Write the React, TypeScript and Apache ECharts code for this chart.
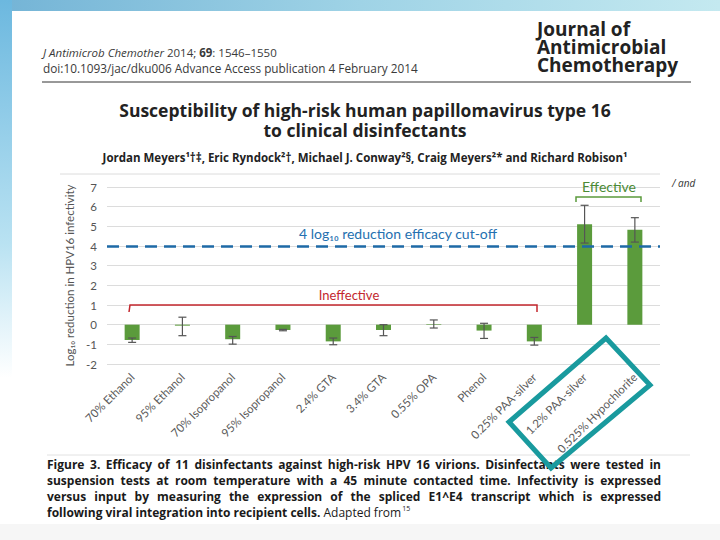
import React, { useEffect, useRef } from "react";
import * as echarts from "echarts";

const categories = [
  "70% Ethanol",
  "95% Ethanol",
  "70% Isopropanol",
  "95% Isopropanol",
  "2.4% GTA",
  "3.4% GTA",
  "0.55% OPA",
  "Phenol",
  "0.25% PAA-silver",
  "1.2% PAA-silver",
  "0.525% Hypochlorite",
];
const meanReduction = [-0.78, -0.05, -0.74, -0.27, -0.85, -0.27, 0.03, -0.3, -0.85, 5.1, 4.82];
const errorLow = [-0.9, -0.56, -0.99, -0.31, -1.02, -0.56, -0.17, -0.7, -1.04, 4.15, 4.2];
const errorHigh = [-0.68, 0.38, -0.6, -0.24, -0.68, 0.0, 0.24, 0.07, -0.65, 6.07, 5.44];
const yMin = -2;
const yMax = 7;
const cutoff = 4;

const captionLines = [
  "Figure 3. Efficacy of 11 disinfectants against high-risk HPV 16 virions. Disinfectants were tested in",
  "suspension tests at room temperature with a 45 minute contacted time. Infectivity is expressed",
  "versus input by measuring the expression of the spliced E1^E4 transcript which is expressed",
];

const CAPTION_FONT = "bold 12px 'Open Sans'";
const CAP_LEFT = 47;
const CAP_RIGHT = 661;
const CAP_TOP = 464;
const CAP_STEP = 16.3;

function justifiedWords(): any[] {
  const canvas = document.createElement("canvas");
  const ctx = canvas.getContext("2d");
  const out: any[] = [];
  captionLines.forEach((line, li) => {
    const words = line.split(" ");
    let widths: number[] = words.map((w) => w.length * 6.6);
    if (ctx) {
      ctx.font = CAPTION_FONT;
      widths = words.map((w) => ctx.measureText(w).width);
    }
    const total = widths.reduce((a, b) => a + b, 0);
    const gap = (CAP_RIGHT - CAP_LEFT - total) / (words.length - 1);
    let x = CAP_LEFT;
    words.forEach((w, wi) => {
      out.push({
        type: "text",
        x,
        y: CAP_TOP + li * CAP_STEP,
        style: { text: w, font: CAPTION_FONT, fill: "#1a1a1a", verticalAlign: "middle" },
      });
      x += widths[wi] + gap;
    });
  });
  return out;
}

export default function App() {
  const ref = useRef<HTMLDivElement>(null);
  useEffect(() => {
    if (!ref.current) return;
    const chart = echarts.init(ref.current, null, { renderer: "svg" });
    const errData = categories.map((_, i) => [i, errorLow[i], errorHigh[i]]);
    const gray = "#555";
    const option: any = {
      animation: false,
      backgroundColor: "#ffffff",
      grid: { left: 107, right: 60, top: 187, bottom: 176, containLabel: false },
      xAxis: {
        type: "category",
        data: categories,
        axisLine: { show: false },
        axisTick: { show: false },
        axisLabel: {
          rotate: 45,
          margin: 11,
          fontSize: 11.5,
          color: "#5a5a5a",
          fontFamily: "Lato",
          interval: 0,
        },
      },
      yAxis: {
        type: "value",
        min: yMin,
        max: yMax,
        interval: 1,
        name: "Log\u2081\u2080 reduction in HPV16 infectivity",
        nameLocation: "middle",
        nameRotate: 90,
        nameGap: 23,
        nameTextStyle: { fontSize: 11.5, color: "#555", fontFamily: "Lato" },
        axisLine: { show: false },
        axisTick: { show: false },
        axisLabel: { fontSize: 11.5, color: "#555", margin: 10, fontFamily: "Lato" },
        splitLine: { lineStyle: { color: "#dcdcdc", width: 1 } },
      },
      series: [
        {
          type: "bar",
          data: meanReduction,
          barWidth: 15,
          itemStyle: { color: "#5b9b3c" },
          markLine: {
            silent: true,
            symbol: "none",
            label: { show: false },
            lineStyle: { color: "#1e6aa6", width: 2.5, type: [12, 7] },
            data: [{ yAxis: cutoff }],
          },
        },
        {
          type: "custom",
          data: errData,
          encode: { x: 0, y: [1, 2] },
          z: 5,
          renderItem: (params: any, api: any) => {
            const x = api.value(0);
            const lo = api.coord([x, api.value(1)]);
            const hi = api.coord([x, api.value(2)]);
            const w = 4;
            const st = { stroke: gray, lineWidth: 1.2 };
            return {
              type: "group",
              children: [
                { type: "line", shape: { x1: lo[0], y1: lo[1], x2: hi[0], y2: hi[1] }, style: st },
                { type: "line", shape: { x1: lo[0] - w, y1: lo[1], x2: lo[0] + w, y2: lo[1] }, style: st },
                { type: "line", shape: { x1: hi[0] - w, y1: hi[1], x2: hi[0] + w, y2: hi[1] }, style: st },
              ],
            };
          },
        },
      ],
      graphic: [
        // slide background
        {
          type: "rect",
          z: -10,
          silent: true,
          shape: { x: 0, y: 0, width: 720, height: 11 },
          style: {
            fill: new echarts.graphic.LinearGradient(0, 0, 1, 0, [
              { offset: 0, color: "#74b4d6" },
              { offset: 0.5, color: "#9fd3e6" },
              { offset: 1, color: "#c4e9f0" },
            ]),
          },
        },
        {
          type: "rect",
          z: -10,
          silent: true,
          shape: { x: 0, y: 0, width: 12, height: 540 },
          style: {
            fill: new echarts.graphic.LinearGradient(0, 0, 0, 1, [
              { offset: 0, color: "#6cb8df" },
              { offset: 0.45, color: "#b9e2f2" },
              { offset: 0.7, color: "#ffffff" },
              { offset: 1, color: "#ffffff" },
            ]),
          },
        },
        {
          type: "rect",
          z: -10,
          silent: true,
          shape: { x: 0, y: 524, width: 720, height: 16 },
          style: { fill: "#f6f6f6" },
        },
        // header
        {
          type: "text",
          x: 43,
          y: 52.5,
          style: {
            text: "{i|J Antimicrob Chemother} 2014; {b|69}: 1546\u20131550",
            font: "11.5px 'Open Sans'",
            fill: "#3a3a3a",
            verticalAlign: "middle",
            rich: {
              i: { fontStyle: "italic", fontSize: 11.5, fontFamily: "Open Sans", fill: "#3a3a3a" },
              b: { fontWeight: "bold", fontSize: 11.5, fontFamily: "Open Sans", fill: "#3a3a3a" },
            },
          },
        },
        {
          type: "text",
          x: 43,
          y: 67.5,
          style: {
            text: "doi:10.1093/jac/dku006 Advance Access publication 4 February 2014",
            font: "11.8px 'Open Sans'",
            fill: "#3a3a3a",
            verticalAlign: "middle",
          },
        },
        ...["Journal of", "Antimicrobial", "Chemotherapy"].map((t, i) => ({
          type: "text",
          x: 537,
          y: 29 + i * 17.8,
          style: {
            text: t,
            font: "bold 19px 'Open Sans'",
            lineHeight: 17,
            fill: "#222",
            verticalAlign: "middle",
          },
        })),
        {
          type: "line",
          shape: { x1: 42, y1: 82, x2: 691, y2: 82 },
          style: { stroke: "#333", lineWidth: 1 },
        },
        {
          type: "text",
          x: 365,
          y: 110,
          style: {
            text: "Susceptibility of high-risk human papillomavirus type 16",
            font: "bold 17.5px 'Open Sans'",
            lineHeight: 18,
            fill: "#222",
            align: "center",
            verticalAlign: "middle",
          },
        },
        {
          type: "text",
          x: 365,
          y: 130,
          style: {
            text: "to clinical disinfectants",
            font: "bold 17.5px 'Open Sans'",
            lineHeight: 18,
            fill: "#222",
            align: "center",
            verticalAlign: "middle",
          },
        },
        {
          type: "text",
          x: 365,
          y: 157,
          style: {
            text: "Jordan Meyers\u00b9\u2020\u2021, Eric Ryndock\u00b2\u2020, Michael J. Conway\u00b2\u00a7, Craig Meyers\u00b2* and Richard Robison\u00b9",
            font: "bold 11.5px 'Open Sans'",
            fill: "#222",
            align: "center",
            verticalAlign: "middle",
          },
        },
        {
          type: "line",
          shape: { x1: 60, y1: 174, x2: 660, y2: 174 },
          style: { stroke: "#dcdcdc", lineWidth: 1 },
        },
        {
          type: "text",
          x: 672,
          y: 183,
          style: { text: "/ and", font: "italic 10px 'Open Sans'", fill: "#333", verticalAlign: "middle" },
        },
        // annotations
        {
          type: "text",
          x: 398,
          y: 233,
          z: 10,
          style: {
            text: "4 log\u2081\u2080 reduction efficacy cut-off",
            font: "14px Lato",
            fill: "#2470b0",
            align: "center",
            verticalAlign: "middle",
          },
        },
        {
          type: "polyline",
          z: 10,
          shape: { points: [[129, 312], [130, 305], [537, 305], [537, 312]] },
          style: { stroke: "#c3272e", lineWidth: 1.5, fill: "none" },
        },
        {
          type: "text",
          x: 349,
          y: 295,
          z: 10,
          style: {
            text: "Ineffective",
            font: "13px Lato",
            fill: "#c3272e",
            align: "center",
            verticalAlign: "middle",
          },
        },
        {
          type: "polyline",
          z: 10,
          shape: { points: [[576, 202], [576, 197], [641, 197], [641, 202]] },
          style: { stroke: "#5b9b3c", lineWidth: 1.5, fill: "none" },
        },
        {
          type: "text",
          x: 609,
          y: 186,
          z: 10,
          style: {
            text: "Effective",
            font: "14px Lato",
            fill: "#4b8a35",
            align: "center",
            verticalAlign: "middle",
          },
        },
        // caption
        {
          type: "line",
          shape: { x1: 47, y1: 455, x2: 690, y2: 455 },
          style: { stroke: "#e2e2e2", lineWidth: 1 },
        },
        ...justifiedWords(),
        {
          type: "text",
          x: CAP_LEFT,
          y: CAP_TOP + 3 * CAP_STEP,
          style: {
            text: "following viral integration into recipient cells. {n|Adapted from}{s|15}",
            font: CAPTION_FONT,
            fill: "#1a1a1a",
            verticalAlign: "middle",
            rich: {
              n: { fontSize: 12, fontFamily: "Open Sans", fontWeight: "normal", fill: "#1a1a1a" },
              s: { fontSize: 7, fontFamily: "Open Sans", fontWeight: "normal", fill: "#1a1a1a", verticalAlign: "top", padding: [0, 0, 8, 1] },
            },
          },
        },
        // teal highlight
        {
          type: "polygon",
          z: 20,
          shape: { points: [[606, 338], [650, 385], [551, 468], [509, 422]] },
          style: { stroke: "#199a9e", lineWidth: 5, fill: "none", lineJoin: "miter" },
        },
      ],
    };
    chart.setOption(option);
    return () => chart.dispose();
  }, []);
  return (
    <div
      ref={ref}
      style={{ position: "absolute", left: 0, top: 0, width: 720, height: 540 }}
    />
  );
}
